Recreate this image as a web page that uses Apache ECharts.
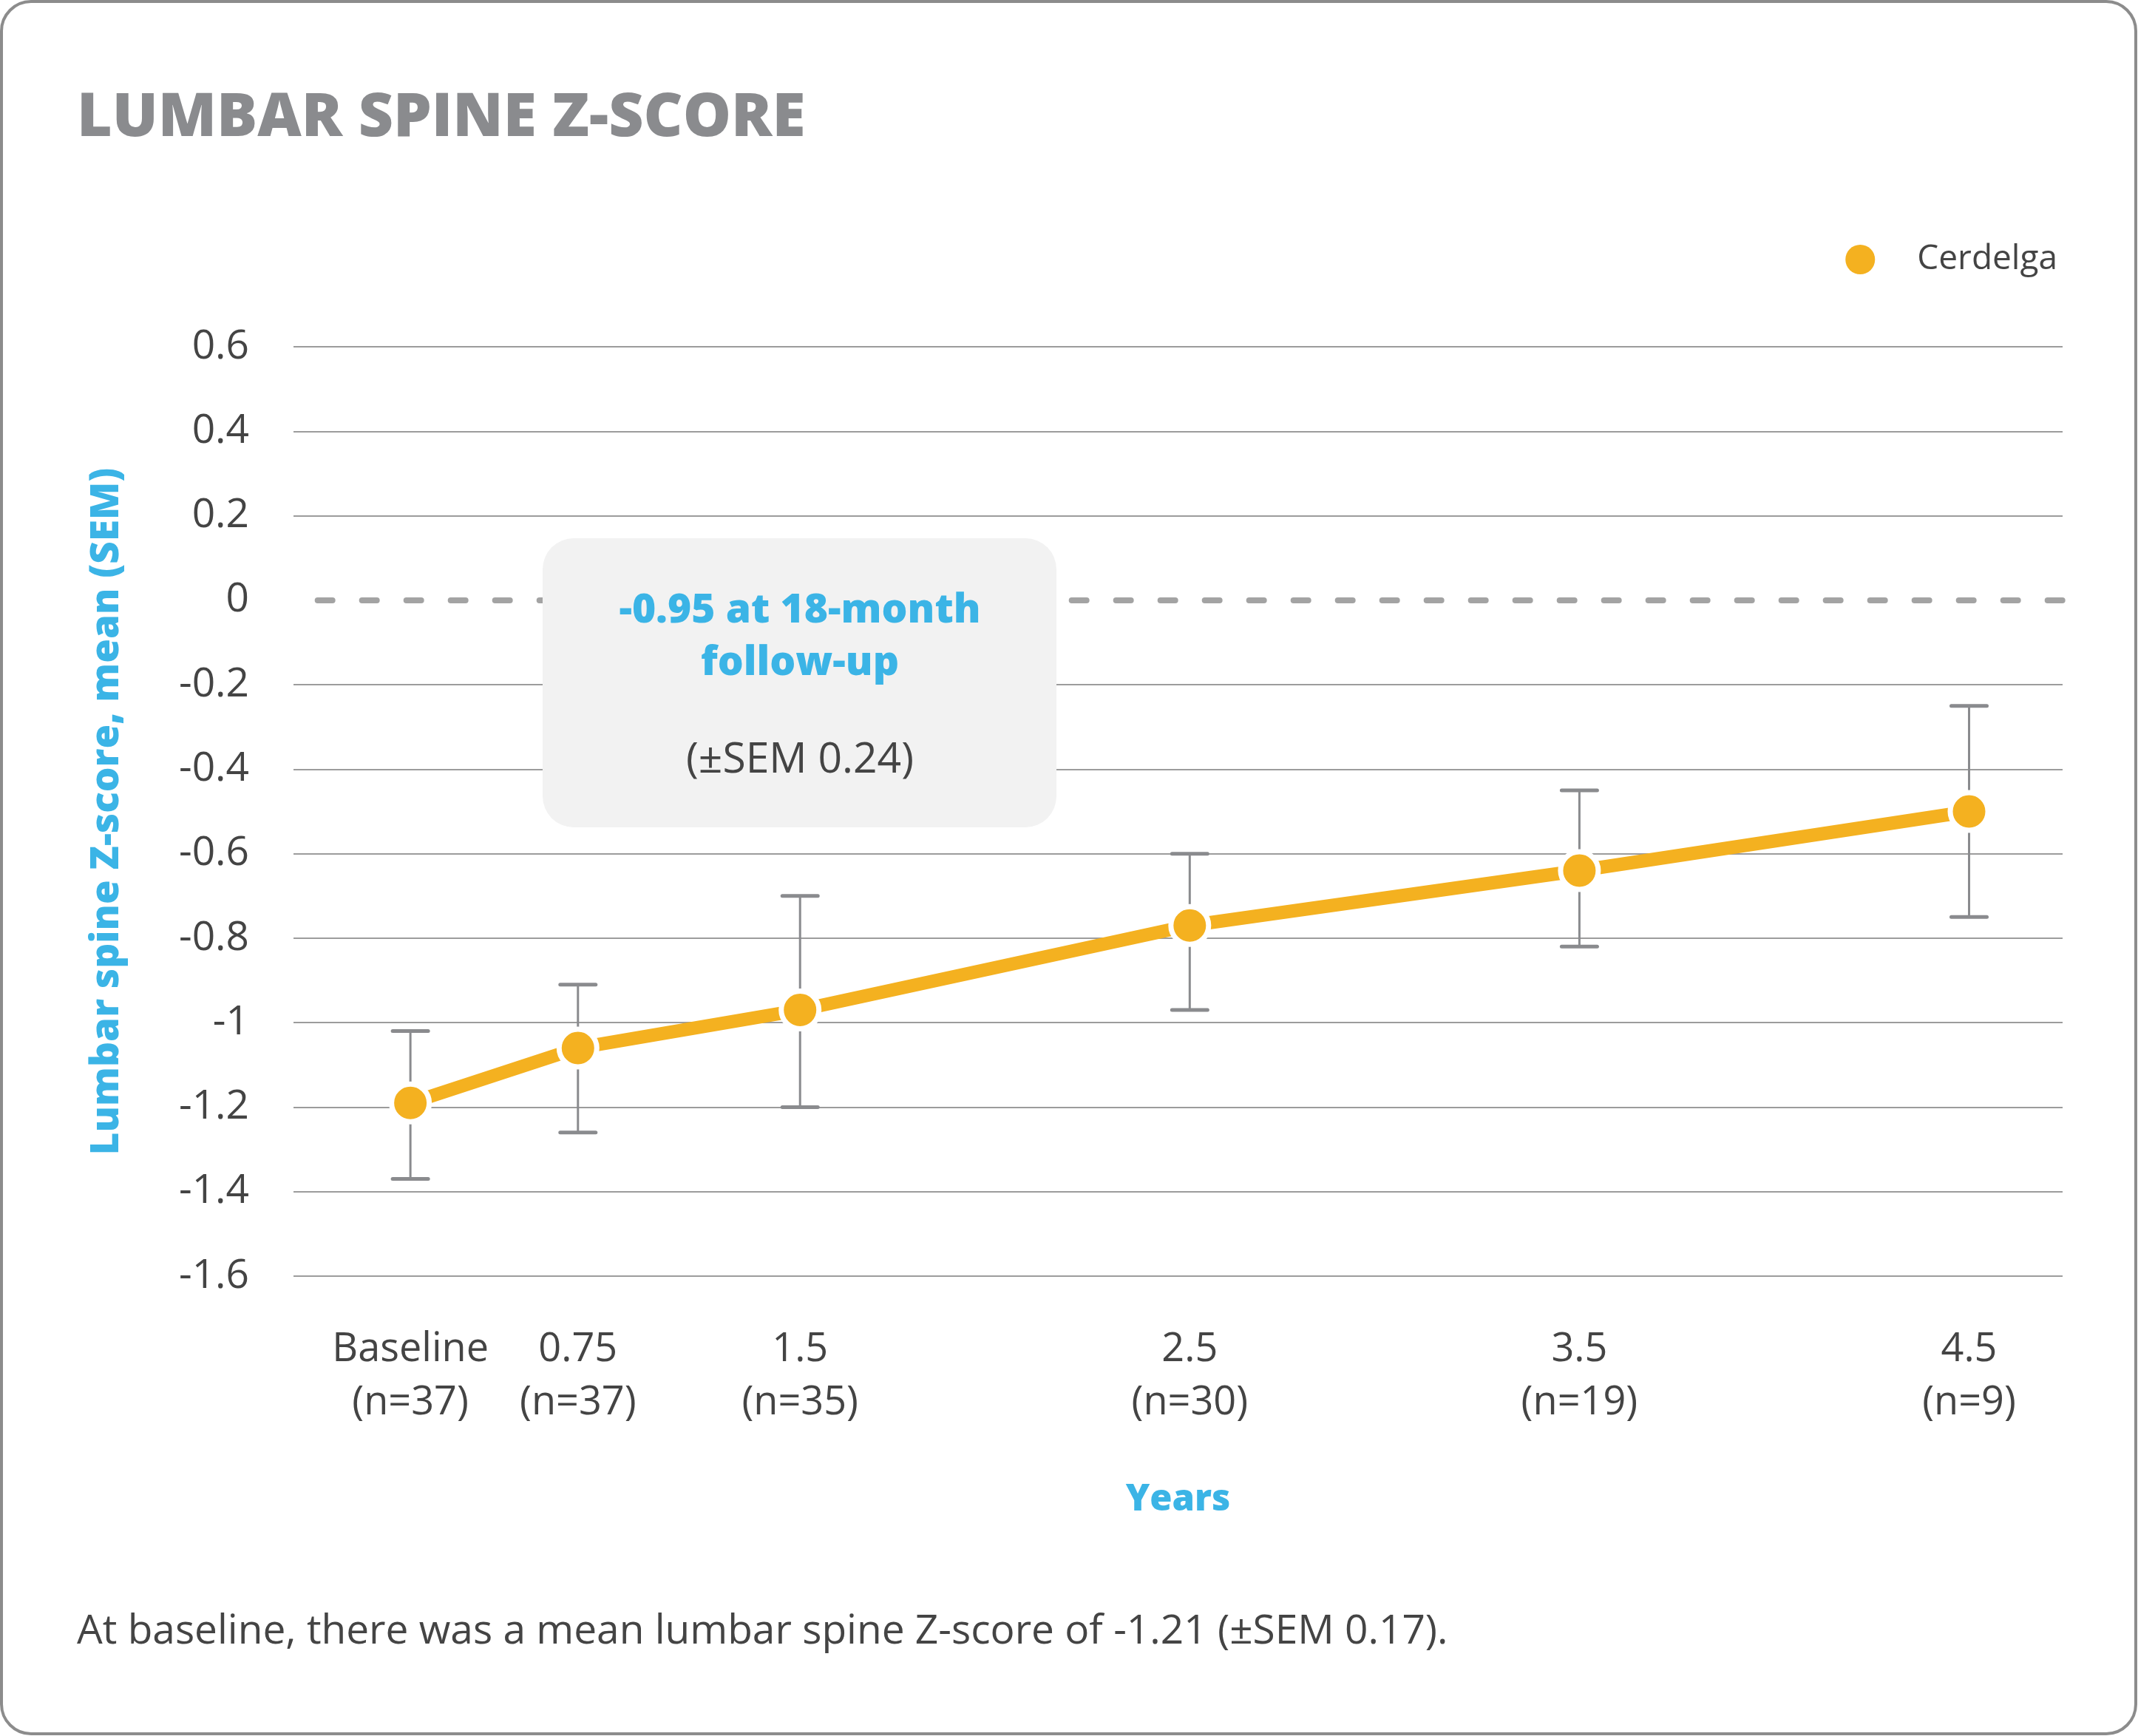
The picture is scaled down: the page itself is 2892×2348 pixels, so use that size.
<!DOCTYPE html>
<html>
<head>
<meta charset="utf-8">
<title>Lumbar spine Z-score</title>
<script src="https://cdn.jsdelivr.net/npm/echarts@6.0.0/dist/echarts.min.js"></script>
<style>
    html, body { margin: 0; padding: 0; background: #fff; }
    #chart { width: 2892px; height: 2348px; }
</style>
</head>
<body>
<div id="chart"></div>
<script>
// visits (years) and number of patients at each
var xLabels = ['Baseline', '0.75', '1.5', '2.5', '3.5', '4.5'];
var nLabels = ['(n=37)', '(n=37)', '(n=35)', '(n=30)', '(n=19)', '(n=9)'];
// where each visit sits along the drawn (not to scale) time axis
var xPlot = [0.5, 0.93, 1.5, 2.5, 3.5, 4.5];

// Cerdelga mean Z-score with SEM bar ends
var meanZ = [-1.19, -1.06, -0.97, -0.77, -0.64, -0.50];
var lowZ = [-1.37, -1.26, -1.20, -0.97, -0.82, -0.75];
var highZ = [-1.02, -0.91, -0.70, -0.60, -0.45, -0.25];

// y axis ticks
var yMin = -1.6;
var yMax = 0.6;
var yStep = 0.2;

var ORANGE = '#F4B120';
var BLUE = '#3BB4E6';
var TEXT = '#444444';
var GRID = '#9c9c9c';
var FONT = '"Open Sans", "Noto Sans", sans-serif';

var chart = echarts.init(document.getElementById('chart'), null, {renderer: 'canvas'});

// grid line colours, 0 is hidden because the dashed line sits there
var splitColors = [];
for (var v = yMin; v <= yMax + 1e-9; v += yStep) {
    splitColors.push(Math.abs(v) < 1e-9 ? 'rgba(0,0,0,0)' : GRID);
}

var lineData = xPlot.map(function (x, i) {
    return [x, meanZ[i]];
});
var barData = xPlot.map(function (x, i) {
    return [x, lowZ[i], highZ[i]];
});

function renderErrorBar(params, api) {
    var x = api.value(0);
    var lo = api.coord([x, api.value(1)]);
    var hi = api.coord([x, api.value(2)]);
    var half = 24;
    var col = '#8a8b8e';
    return {
        type: 'group',
        children: [
            {type: 'line', shape: {x1: lo[0], y1: lo[1], x2: hi[0], y2: hi[1]}, style: {stroke: col, lineWidth: 3}},
            {type: 'line', shape: {x1: hi[0] - half, y1: hi[1], x2: hi[0] + half, y2: hi[1]}, style: {stroke: col, lineWidth: 5, lineCap: 'round'}},
            {type: 'line', shape: {x1: lo[0] - half, y1: lo[1], x2: lo[0] + half, y2: lo[1]}, style: {stroke: col, lineWidth: 5, lineCap: 'round'}}
        ]
    };
}

var option = {
    backgroundColor: '#fff',
    animation: false,
    textStyle: {fontFamily: FONT},
    grid: {
        left: 397,
        right: 102,
        top: 469,
        bottom: 622,
        outerBoundsMode: 'none'
    },
    legend: {
        data: ['Cerdelga'],
        right: 104,
        top: 323,
        icon: 'circle',
        itemWidth: 40,
        itemHeight: 40,
        itemStyle: {borderWidth: 0},
        selectedMode: false,
        textStyle: {
            fontFamily: FONT,
            fontSize: 46,
            color: TEXT,
            lineHeight: 40,
            padding: [0, 0, 0, 52]
        }
    },
    xAxis: {
        type: 'value',
        min: 0.2,
        max: 4.74,
        name: 'Years',
        nameLocation: 'middle',
        nameGap: 279,
        nameTextStyle: {fontFamily: FONT, fontSize: 49, fontWeight: 800, color: BLUE},
        axisLine: {show: false},
        axisTick: {show: false},
        splitLine: {show: false},
        axisLabel: {
            customValues: xPlot,
            margin: 64,
            fontFamily: FONT,
            fontSize: 54,
            lineHeight: 72,
            color: TEXT,
            formatter: function (value) {
                var i = xPlot.indexOf(value);
                return i < 0 ? '' : xLabels[i] + '\n' + nLabels[i];
            }
        }
    },
    yAxis: {
        type: 'value',
        min: yMin,
        max: yMax,
        interval: yStep,
        name: 'Lumbar spine Z-score, mean (SEM)',
        nameLocation: 'middle',
        nameGap: 226,
        nameRotate: 90,
        nameTextStyle: {fontFamily: FONT, fontSize: 53, fontWeight: 800, color: BLUE},
        axisLine: {show: false},
        axisTick: {show: false},
        axisLabel: {
            margin: 60,
            fontFamily: FONT,
            fontSize: 55,
            color: TEXT
        },
        splitLine: {
            show: true,
            lineStyle: {color: splitColors, width: 2}
        }
    },
    series: [
        {
            type: 'custom',
            name: 'SEM',
            renderItem: renderErrorBar,
            encode: {x: 0, y: [1, 2]},
            data: barData,
            z: 2,
            silent: true
        },
        {
            type: 'line',
            name: 'Cerdelga',
            data: lineData,
            z: 3,
            color: ORANGE,
            lineStyle: {color: ORANGE, width: 18},
            symbol: 'circle',
            symbolSize: 51,
            itemStyle: {color: ORANGE, borderColor: '#fff', borderWidth: 7},
            emphasis: {disabled: true},
            markLine: {
                silent: true,
                symbol: 'none',
                label: {show: false},
                lineStyle: {type: [20, 40], cap: 'round', width: 8, color: '#a3a3a3'},
                data: [[{coord: [0.262, 0]}, {coord: [4.74, 0]}]]
            }
        }
    ],
    graphic: [
        {
            type: 'rect',
            z: -10,
            shape: {x: 2, y: 2, width: 2887, height: 2343, r: 40},
            style: {fill: 'none', stroke: '#8c8c8c', lineWidth: 4}
        },
        {
            type: 'text',
            left: 104,
            top: 120,
            style: {
                text: 'LUMBAR SPINE Z-SCORE',
                fontFamily: FONT,
                fontSize: 82,
                fontWeight: 800,
                fill: '#8a8b8e'
            }
        },
        {
            type: 'rect',
            z: 100,
            shape: {x: 734, y: 728, width: 695, height: 391, r: 42},
            style: {fill: '#f2f2f2'}
        },
        {
            type: 'text',
            z: 101,
            x: 1082,
            y: 826,
            style: {
                text: '-0.95 at 18-month',
                align: 'center',
                verticalAlign: 'middle',
                fontFamily: FONT,
                fontSize: 55,
                fontWeight: 800,
                fill: BLUE
            }
        },
        {
            type: 'text',
            z: 101,
            x: 1082,
            y: 897,
            style: {
                text: 'follow-up',
                align: 'center',
                verticalAlign: 'middle',
                fontFamily: FONT,
                fontSize: 55,
                fontWeight: 800,
                fill: BLUE
            }
        },
        {
            type: 'text',
            z: 101,
            x: 1082,
            y: 1029,
            style: {
                text: '(\u00B1SEM 0.24)',
                align: 'center',
                verticalAlign: 'middle',
                fontFamily: FONT,
                fontSize: 57,
                fill: TEXT
            }
        },
        {
            type: 'text',
            x: 104,
            y: 2207,
            style: {
                text: 'At baseline, there was a mean lumbar spine Z-score of -1.21 (\u00B1SEM 0.17).',
                verticalAlign: 'middle',
                fontFamily: FONT,
                fontSize: 55,
                fill: TEXT
            }
        }
    ]
};

chart.setOption(option);
</script>
</body>
</html>
